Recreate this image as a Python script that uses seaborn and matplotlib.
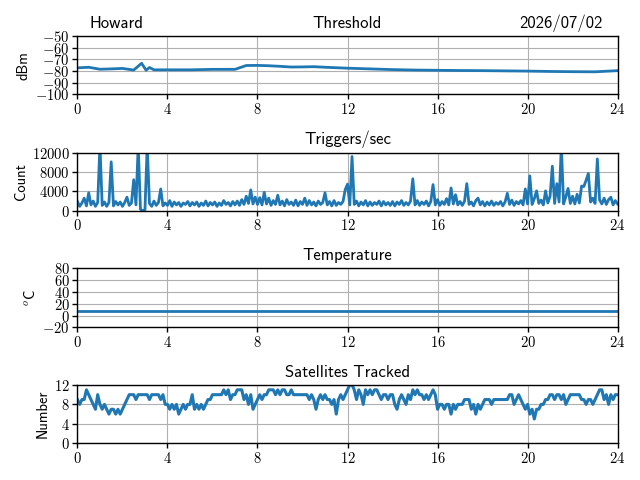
import numpy as np
import pandas as pd
import matplotlib
matplotlib.use("Agg")
import matplotlib.pyplot as plt
import matplotlib.ticker as mticker
import seaborn as sns

# ---------------- data ----------------
thr_hours = [0, 0.5, 1.0, 1.5, 2.0, 2.5, 2.85, 3.05, 3.2, 3.4, 4, 5, 6, 7, 7.5, 8, 8.5, 9,
             9.5, 10, 10.5, 11, 12, 13, 14, 15, 16, 17, 18, 19, 20, 21, 22, 23, 24]
thr_dbm = [-77.3, -76.8, -78.5, -78.2, -77.8, -79.2, -73.4, -79.3, -77.0, -79.0, -79.0, -79.0,
           -78.6, -78.6, -75.3, -75.2, -75.5, -76.0, -76.6, -76.5, -76.3, -76.8, -77.6, -78.2,
           -78.8, -79.2, -79.4, -79.6, -79.7, -79.9, -80.1, -80.4, -80.6, -80.7, -79.7]

trig_counts = [
    1900, 900, 1600, 2600, 1000, 3700, 1200, 2000, 900, 1700,
    13500, 1100, 1800, 900, 1700, 10100, 1000, 1900, 1200, 1800,
    900, 1700, 2800, 1100, 1600, 6400, 1200, 13500, 300, 0,
    200, 13500, 1500, 900, 2000, 1100, 1700, 4500, 1000, 1600,
    1100, 2100, 900, 1800, 1200, 1700, 900, 1600, 1300, 1900,
    1000, 1700, 1200, 1800, 900, 1600, 1100, 2000, 1000, 1700,
    1200, 1800, 900, 1600, 1100, 2100, 1300, 1700, 1000, 1900,
    1200, 2000, 1100, 2300, 1300, 3000, 1500, 4300, 1400, 2800,
    1300, 2700, 1200, 3800, 1400, 2600, 1100, 2100, 1300, 3200,
    1200, 2000, 1000, 2300, 1300, 1800, 1100, 2200, 1000, 1900,
    1300, 2600, 1100, 2100, 1200, 1800, 1000, 2000, 1300, 1700,
    3700, 1200, 1900, 1000, 2100, 1100, 1700, 1300, 1900, 4400,
    5500, 1200, 11200, 1300, 2000, 1000, 1800, 1200, 2100, 1000,
    1800, 1100, 1700, 1300, 2000, 1000, 1900, 1200, 1700, 1100,
    1900, 1000, 1800, 1300, 2100, 1100, 1700, 1200, 2000, 6600,
    1200, 2100, 1100, 1800, 1300, 2000, 1000, 1900, 5400, 1200,
    2300, 1100, 1900, 1300, 2500, 1200, 4700, 1400, 3300, 1200,
    1900, 1100, 2000, 5600, 1300, 1800, 1000, 2100, 2600, 1200,
    1900, 1000, 1800, 1200, 2000, 1100, 1700, 1300, 1900, 1000,
    1800, 3600, 1300, 2200, 1100, 1900, 1400, 2100, 1200, 4500,
    1400, 7200, 1300, 2500, 4100, 1500, 2200, 1200, 4100, 1600,
    3000, 9200, 1500, 5600, 1800, 13500, 1400, 2900, 4600, 1500,
    3000, 1400, 3400, 1600, 5100, 5000, 6300, 7700, 1800, 2600,
    1500, 10700, 2200, 1400, 2600, 1300, 2300, 2800, 1200, 2100,
    1400,
]

temp_hours = [0, 24]
temp_c = [7.0, 7.0]

sat_counts = [
    9, 8, 9, 9, 11, 10, 9, 8, 7, 10,
    8, 7, 8, 7, 6, 7, 7, 6, 7, 6,
    7, 8, 9, 10, 10, 10, 9, 10, 10, 10,
    10, 10, 9, 10, 10, 10, 10, 9, 10, 8,
    8, 7, 8, 7, 8, 6, 7, 8, 7, 8,
    8, 10, 7, 8, 7, 8, 7, 8, 9, 9,
    10, 10, 10, 10, 10, 11, 10, 11, 9, 10,
    10, 11, 11, 11, 9, 10, 8, 10, 7, 8,
    9, 10, 9, 10, 10, 11, 11, 11, 10, 11,
    10, 11, 11, 10, 10, 11, 10, 10, 10, 10,
    10, 10, 10, 9, 10, 9, 7, 9, 10, 9,
    10, 9, 9, 8, 9, 6, 9, 10, 9, 10,
    11, 12, 12, 11, 9, 11, 10, 8, 11, 10,
    11, 10, 11, 11, 10, 9, 10, 10, 9, 10,
    10, 8, 7, 9, 10, 9, 8, 10, 9, 11,
    10, 11, 10, 10, 9, 10, 9, 10, 11, 10,
    7, 8, 8, 7, 8, 8, 6, 8, 7, 8,
    8, 8, 9, 9, 9, 7, 8, 6, 8, 7,
    8, 9, 9, 9, 8, 9, 9, 9, 9, 9,
    9, 9, 10, 10, 8, 9, 10, 9, 8, 7,
    8, 6, 7, 5, 7, 7, 8, 8, 9, 9,
    10, 10, 9, 10, 10, 9, 10, 8, 9, 10,
    10, 10, 10, 10, 9, 9, 8, 9, 9, 8,
    9, 10, 11, 11, 9, 10, 8, 10, 9, 10,
    10,
]
step_hours = [i / 10 for i in range(241)]

x_ticks = [0, 4, 8, 12, 16, 20, 24]
thr_ticks = [-100, -90, -80, -70, -60, -50]
trig_ticks = [0, 4000, 8000, 12000]
temp_ticks = [-20, 0, 20, 40, 60, 80]
sat_ticks = [0, 4, 8, 12]

# ---------------- style ----------------
plt.rcParams["mathtext.fontset"] = "cm"
plt.rcParams["font.family"] = ["cmss10", "DejaVu Sans"]
plt.rcParams["axes.linewidth"] = 1.0
plt.rcParams["axes.unicode_minus"] = False

fig = plt.figure(figsize=(6.4, 4.8), dpi=100)
L, W = 0.121, 0.844
positions = [
    (L, 0.8035, W, 0.1215),
    (L, 0.561, W, 0.121),
    (L, 0.318, W, 0.123),
    (L, 0.0765, W, 0.1215),
]
axes = [fig.add_axes(p) for p in positions]

blue = "#1f77b4"
sns.lineplot(x=thr_hours, y=thr_dbm, ax=axes[0], color=blue, lw=2)
sns.lineplot(x=step_hours, y=trig_counts, ax=axes[1], color=blue, lw=2)
sns.lineplot(x=temp_hours, y=temp_c, ax=axes[2], color=blue, lw=2)
sns.lineplot(x=step_hours, y=sat_counts, ax=axes[3], color=blue, lw=2.2)

fmt = mticker.FuncFormatter(lambda v, p: f"${v:g}$")
specs = [
    (thr_ticks, (-100, -50), "dBm", "Threshold"),
    (trig_ticks, (0, 12000), "Count", "Triggers/sec"),
    (temp_ticks, (-20, 80), r"$^o$C", "Temperature"),
    (sat_ticks, (0, 12), "Number", "Satellites Tracked"),
]
for ax, (yt, yl, ylab, title) in zip(axes, specs):
    ax.set_xlim(0, 24)
    ax.set_ylim(*yl)
    ax.set_xticks(x_ticks)
    ax.set_yticks(yt)
    ax.xaxis.set_major_formatter(fmt)
    ax.yaxis.set_major_formatter(fmt)
    ax.tick_params(labelsize=10.5, length=3.5, width=1, pad=2)
    ax.grid(True, color="#b0b0b0", lw=0.8)
    ax.set_axisbelow(True)
    ax.set_ylabel(ylab, fontsize=10.5, labelpad=3)
    ax.set_xlabel("")
    ax.set_title(title, fontsize=12, pad=6)
    for s in ax.spines.values():
        s.set_color("black")

axes[0].text(0.022, 1.0 + 8.0 / 58.0, "Howard", transform=axes[0].transAxes,
             ha="left", va="baseline", fontsize=12)
axes[0].text(0.972, 1.0 + 8.0 / 58.0, "2026/07/02", transform=axes[0].transAxes,
             ha="right", va="baseline", fontsize=12)

fig.savefig("out.png", dpi=100)
